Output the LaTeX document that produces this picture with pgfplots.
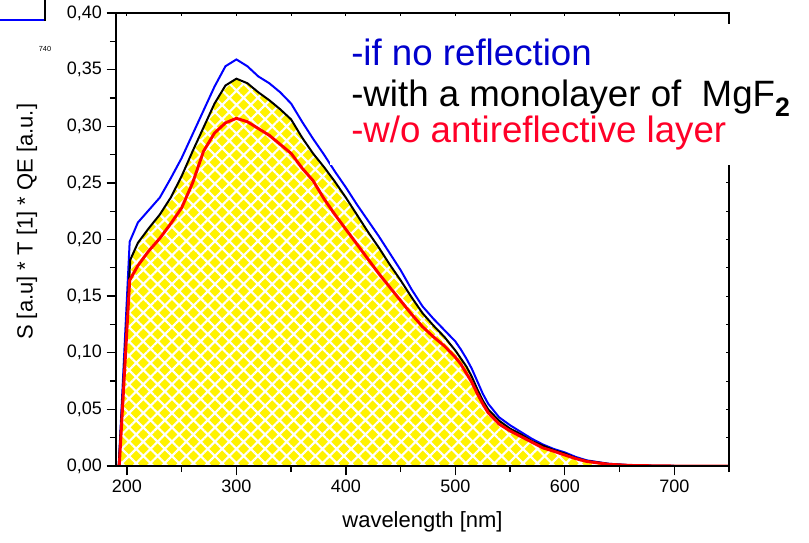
\documentclass[border=0pt]{standalone}
\usepackage{pgfplots}
\pgfplotsset{compat=1.18}
\usepackage{pgfplotstable}
\usepackage{fontspec}
\setmainfont{Liberation Sans}
\usetikzlibrary{patterns.meta,calc}

\definecolor{lblue}{RGB}{0,0,255}
\definecolor{lred}{RGB}{255,0,0}
\definecolor{tblue}{RGB}{0,0,205}
\definecolor{tred}{RGB}{255,0,40}

\pgfplotstableread{
x y
190 0
192.5 0
202.5 0.198
210 0.215
220 0.226
230 0.237
240 0.254
250 0.272
260 0.293
270 0.314
280 0.335
290 0.353
300 0.359
310 0.353
320 0.344
330 0.338
340 0.330
350 0.320
360 0.304
370 0.289
380 0.275
390 0.260
400 0.246
410 0.231
420 0.217
430 0.203
440 0.188
450 0.173
460 0.156
470 0.141
480 0.130
490 0.120
500 0.110
505 0.103
510 0.095
515 0.086
520 0.075
525 0.064
530 0.055
540 0.043
550 0.036
560 0.030
570 0.024
580 0.019
590 0.015
600 0.012
610 0.008
620 0.005
640 0.002
660 0.0007
680 0.0002
700 0
750 0
}\noreflection

\pgfplotstableread{
x y
190 0
192.5 0
203 0.182
210 0.197
220 0.210
230 0.222
240 0.237
250 0.256
260 0.278
270 0.299
280 0.320
290 0.336
300 0.342
310 0.338
320 0.330
330 0.323
340 0.315
350 0.306
360 0.290
370 0.276
380 0.264
390 0.251
400 0.237
410 0.222
420 0.207
430 0.193
440 0.178
450 0.164
460 0.149
470 0.135
480 0.124
490 0.114
500 0.102
505 0.095
510 0.088
515 0.079
520 0.068
525 0.058
530 0.050
540 0.040
550 0.033
560 0.028
570 0.022
580 0.018
590 0.014
600 0.011
610 0.007
620 0.0045
640 0.0018
660 0.0006
680 0.0002
700 0
750 0
}\monolayer

\pgfplotstableread{
x y
190 0
193 0
202.5 0.164
210 0.177
220 0.190
230 0.201
240 0.214
250 0.228
260 0.250
270 0.278
280 0.294
290 0.303
300 0.307
310 0.304
320 0.298
330 0.292
340 0.284
350 0.276
360 0.263
370 0.252
380 0.236
390 0.222
400 0.209
410 0.196
420 0.183
430 0.170
440 0.158
450 0.146
460 0.134
470 0.123
480 0.114
490 0.106
500 0.096
505 0.090
510 0.082
515 0.074
520 0.064
525 0.055
530 0.047
540 0.037
550 0.031
560 0.026
570 0.021
580 0.016
590 0.013
600 0.0097
610 0.0065
620 0.004
640 0.0015
660 0.0005
680 0.0002
700 0
750 0
}\noar

\begin{document}
\begin{tikzpicture}
\begin{axis}[
  scale only axis,
  width=459.75pt, height=339.75pt,
  xmin=190, xmax=750, ymin=0, ymax=0.40,
  xtick={200,300,...,700},
  minor xtick={250,350,...,750},
  ytick={0,0.05,...,0.401},
  minor ytick={0.025,0.075,...,0.4},
  tick align=outside,
  xtick pos=left, ytick pos=left,
  major tick length=7pt, minor tick length=4.5pt,
  every tick/.style={black, line width=1pt},
  axis line style={line width=1.2pt},
  /pgf/number format/assume math mode=true,
  yticklabel style={/pgf/number format/.cd, use comma, fixed, fixed zerofill, precision=2},
  xticklabel style={/pgf/number format/.cd, set thousands separator={}},
  tick label style={font=\fontsize{13.5pt}{15pt}\selectfont},
  xlabel={wavelength [nm]},
  ylabel={S [a.u] * T [1] * QE [a.u.]},
  label style={font=\fontsize{16.5pt}{18pt}\selectfont},
  xlabel style={at={(axis description cs:0.5,-0.1236)}, anchor=center, inner sep=0pt},
  ylabel style={at={(axis description cs:-0.1452,0.539)}, anchor=center, inner sep=0pt},
  clip=true,
]
\coordinate (sw) at (rel axis cs:0,0);
\addplot[draw=none, fill=yellow] table[x=x,y=y] {\monolayer} \closedcycle;
\addplot[draw=none, pattern={Hatch[angle=45,distance=7.6pt,line width=1.6pt]}, pattern color=white] table[x=x,y=y] {\monolayer} \closedcycle;
\addplot[lblue, line width=1.5pt] table[x=x,y=y] {\noreflection};
\addplot[black, line width=1.5pt] table[x=x,y=y] {\monolayer};
\addplot[lred, line width=2.2pt] table[x=x,y=y] {\noar};
\end{axis}
\begin{axis}[
  scale only axis,
  width=459.75pt, height=339.75pt,
  xmin=190, xmax=750, ymin=0, ymax=0.40,
  xtick={200,250,...,750},
  ytick={0,0.025,...,0.401},
  tick align=inside,
  xtick pos=right, ytick pos=right,
  major tick length=2.5pt,
  every tick/.style={black, line width=0.8pt},
  axis line style={line width=1.2pt},
  xticklabels={}, yticklabels={},
]
\end{axis}
% legend text with white background
\fill[white] ($(sw)+(160.5pt,225.75pt)$) rectangle ($(sw)+(502pt,331.5pt)$);
\node[anchor=base west, inner sep=0pt, text=tblue, font=\fontsize{27.5pt}{30pt}\selectfont] at ($(sw)+(176.25pt,300pt)$) {-if no reflection};
\node[anchor=base west, inner sep=0pt, text=black, font=\fontsize{27.5pt}{30pt}\selectfont] at ($(sw)+(176.25pt,269.25pt)$) {-with a monolayer of \ MgF\raisebox{-7pt}{\fontsize{20pt}{20pt}\selectfont\bfseries 2}};
\node[anchor=base west, inner sep=0pt, text=tred, font=\fontsize{27.5pt}{30pt}\selectfont] at ($(sw)+(176.25pt,242.25pt)$) {-w/o antireflective layer};
% remnants in the top left corner
\node[anchor=center, inner sep=0pt, font=\rmfamily\fontsize{5.5pt}{6pt}\selectfont] at ($(sw)+(-53.25pt,312.75pt)$) {740};
\draw[lblue, line width=1.2pt] ($(sw)+(-87pt,334.5pt)$) -- ($(sw)+(-53.25pt,334.5pt)$);
\draw[black, line width=1pt] ($(sw)+(-53.25pt,349.5pt)$) -- ($(sw)+(-53.25pt,334pt)$);
\pgfresetboundingbox
\path ($(sw)+(-87pt,-57pt)$) rectangle ($(sw)+(519.75pt,349.5pt)$);
\end{tikzpicture}
\end{document}
